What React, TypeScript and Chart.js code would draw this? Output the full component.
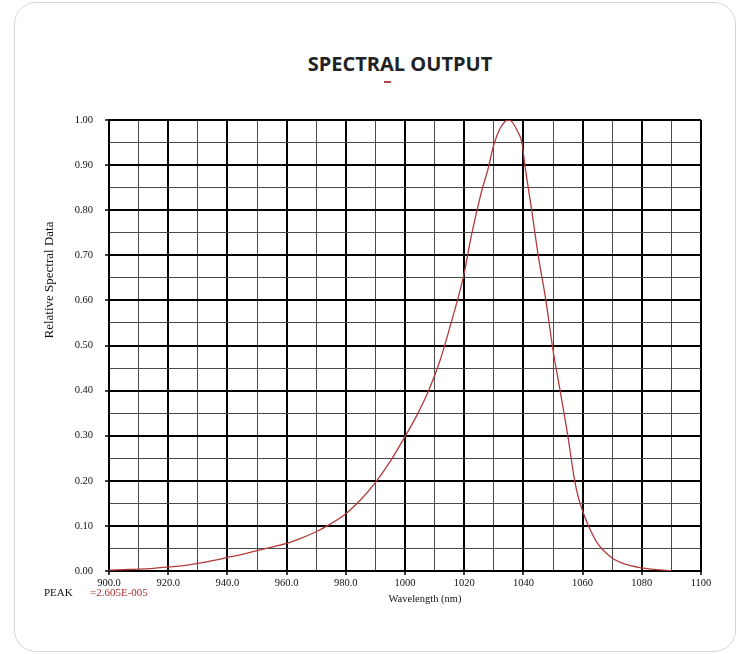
import React, { useEffect, useRef } from "react";
import { Chart, registerables } from "chart.js";

Chart.register(...registerables);

// ---- data ----
const wavelengths = [
  900, 905, 910, 915, 920, 925, 930, 935, 940, 945, 950, 955, 960, 965, 970, 975,
  980, 985, 990, 995, 1000, 1004, 1008, 1012, 1016, 1020, 1022, 1024, 1026, 1028,
  1030, 1032, 1034, 1035, 1036, 1038, 1039.5, 1040.5, 1042.8, 1045, 1047.6, 1050,
  1052.4, 1055, 1057.2, 1058.5, 1060, 1062, 1065, 1070, 1075, 1080, 1085, 1090,
];
const relativeValues = [
  0.002, 0.003, 0.004, 0.006, 0.009, 0.012, 0.017, 0.023, 0.03, 0.037, 0.045, 0.053,
  0.061, 0.073, 0.087, 0.105, 0.127, 0.158, 0.196, 0.243, 0.298, 0.345, 0.4, 0.47,
  0.56, 0.66, 0.73, 0.79, 0.845, 0.89, 0.945, 0.98, 0.998, 1.0, 0.997, 0.975, 0.95,
  0.9, 0.8, 0.7, 0.6, 0.49, 0.4, 0.3, 0.205, 0.165, 0.133, 0.1, 0.062, 0.029, 0.014,
  0.007, 0.003, 0.001,
];
const xTickValues = [900, 920, 940, 960, 980, 1000, 1020, 1040, 1060, 1080, 1100];
const xTickLabels = ["900.0", "920.0", "940.0", "960.0", "980.0", "1000", "1020", "1040", "1060", "1080", "1100"];
const yTickValues = [0, 0.1, 0.2, 0.3, 0.4, 0.5, 0.6, 0.7, 0.8, 0.9, 1.0];
const yTickLabels = ["0.00", "0.10", "0.20", "0.30", "0.40", "0.50", "0.60", "0.70", "0.80", "0.90", "1.00"];

const TITLE = "SPECTRAL OUTPUT";
const X_TITLE = "Wavelength (nm)";
const Y_TITLE = "Relative Spectral Data";
const PEAK_LABEL = "PEAK";
const PEAK_VALUE = "=2.605E-005";

const SERIF = '"Liberation Serif", "Times New Roman", serif';

const xIndex = (v: number) => xTickValues.findIndex((t) => Math.abs(t - v) < 1e-6);
const yIndex = (v: number) => yTickValues.findIndex((t) => Math.abs(t - v) < 1e-6);

const axisTitles = {
  id: "axisTitles",
  afterDraw(chart: any) {
    const { ctx, chartArea: a } = chart;
    ctx.save();
    ctx.fillStyle = "#111";
    ctx.textAlign = "center";
    ctx.textBaseline = "middle";
    ctx.font = `10.5px ${SERIF}`;
    ctx.fillText(X_TITLE, (a.left + a.right) / 2 + 20, a.bottom + 28);
    ctx.translate(a.left - 59, a.top + 160);
    ctx.rotate(-Math.PI / 2);
    ctx.font = `13px ${SERIF}`;
    ctx.fillText(Y_TITLE, 0, 0);
    ctx.restore();
  },
};

export default function App() {
  const ref = useRef<HTMLCanvasElement | null>(null);

  useEffect(() => {
    if (!ref.current) return;
    const chart = new Chart(ref.current, {
      type: "line",
      data: {
        datasets: [
          {
            data: wavelengths.map((x, i) => ({ x, y: relativeValues[i] })),
            borderColor: "#b23a3a",
            borderWidth: 1.3,
            pointRadius: 0,
            cubicInterpolationMode: "monotone",
            fill: false,
          },
        ],
      },
      options: {
        responsive: false,
        animation: false,
        layout: { padding: { top: 20, right: 19, left: 0, bottom: 0 } },
        plugins: { legend: { display: false }, tooltip: { enabled: false } },
        scales: {
          x: {
            type: "linear",
            min: 900,
            max: 1100,
            afterFit: (s: any) => {
              s.height = 49;
            },
            border: { display: true, color: "#000", width: 2 },
            grid: {
              color: (c: any) => (c.tick && xIndex(c.tick.value) >= 0 ? "#000" : "#4a4a4a"),
              lineWidth: (c: any) => (c.tick && xIndex(c.tick.value) >= 0 ? 2 : 1),
              tickColor: (c: any) => (c.tick && xIndex(c.tick.value) >= 0 ? "#000" : "rgba(0,0,0,0)"),
              tickLength: 4,
              tickWidth: 1.5,
            },
            ticks: {
              stepSize: 10,
              autoSkip: false,
              maxRotation: 0,
              padding: 2,
              color: "#111",
              font: { family: SERIF, size: 10.5 },
              callback: (v: any) => {
                const i = xIndex(Number(v));
                return i >= 0 ? xTickLabels[i] : "";
              },
            },
          },
          y: {
            min: 0,
            max: 1,
            afterFit: (s: any) => {
              s.width = 89;
            },
            border: { display: true, color: "#000", width: 2 },
            grid: {
              color: (c: any) => (c.tick && yIndex(c.tick.value) >= 0 ? "#000" : "#4a4a4a"),
              lineWidth: (c: any) => (c.tick && yIndex(c.tick.value) >= 0 ? 2 : 1),
              tickColor: (c: any) => (c.tick && yIndex(c.tick.value) >= 0 ? "#000" : "rgba(0,0,0,0)"),
              tickLength: 4,
              tickWidth: 1.5,
            },
            ticks: {
              stepSize: 0.05,
              autoSkip: false,
              padding: 12,
              color: "#111",
              font: { family: SERIF, size: 10.5 },
              callback: (v: any) => {
                const i = yIndex(Number(v));
                return i >= 0 ? yTickLabels[i] : "";
              },
            },
          },
        },
      },
      plugins: [axisTitles],
    } as any);
    return () => chart.destroy();
  }, []);

  return (
    <div>
      <div
        style={{
          position: "fixed",
          left: 14,
          top: 2,
          width: 722,
          height: 650,
          boxSizing: "border-box",
          border: "1px solid #d6d6d6",
          borderRadius: 22,
          background: "#fff",
        }}
      />
      <div
        style={{
          position: "fixed",
          left: 200,
          top: 54,
          width: 400,
          textAlign: "center",
          fontFamily: '"Open Sans", sans-serif',
          fontWeight: 700,
          fontSize: 20,
          lineHeight: "20px",
          color: "#222",
        }}
      >
        {TITLE}
      </div>
      <div
        style={{
          position: "fixed",
          left: 384,
          top: 81,
          width: 7,
          height: 2,
          background: "#b04545",
        }}
      />
      <canvas
        ref={ref}
        width={700}
        height={520}
        style={{ position: "fixed", left: 20, top: 100, width: 700, height: 520 }}
      />
      <div
        style={{
          position: "fixed",
          left: 44,
          top: 586,
          fontFamily: SERIF,
          fontSize: 11,
          lineHeight: "13px",
          color: "#111",
          whiteSpace: "nowrap",
        }}
      >
        {PEAK_LABEL}
        <span style={{ position: "absolute", left: 46, color: "#b03030" }}>{PEAK_VALUE}</span>
      </div>
    </div>
  );
}
